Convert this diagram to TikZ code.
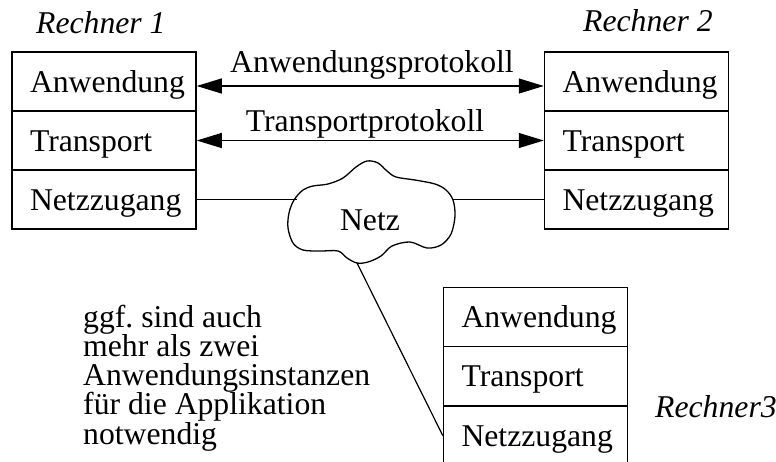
\documentclass[tikz,border=0pt]{standalone}
\usepackage{fontspec}
\setmainfont{Liberation Serif}
\usetikzlibrary{arrows.meta}
\newcommand\txtfont{\fontsize{31.7}{29.25}\selectfont}
\frenchspacing
\begin{document}
\begin{tikzpicture}[x=1pt,y=-1pt,
  layer/.style={draw, line width=1.5pt, minimum height=59pt, text width=148pt,
    inner xsep=18pt, inner ysep=0pt, align=left, text height=21pt, text depth=0pt,
    font=\txtfont},
  hostlabel/.style={anchor=base west, inner sep=0pt, font=\txtfont\itshape},
  protolabel/.style={anchor=base, inner sep=0pt, font=\txtfont},
  proto/.style={line width=1.2pt, {Triangle[length=25pt,width=15pt]}-{Triangle[length=25pt,width=15pt]}},
  link/.style={line width=1.2pt},
  cloudline/.style={line width=1.3pt, line join=round}]
\useasboundingbox (0,0) rectangle (776,461);

% host 1
\node[layer] (a1) at (104,81.5) {Anwendung};
\node[layer] (t1) at (104,140.5) {Transport};
\node[layer] (n1) at (104,199.5) {Netzzugang};
\node[hostlabel] (r1) at (36,33) {Rechner 1};

% host 2
\node[layer] (a2) at (636.5,81.5) {Anwendung};
\node[layer] (t2) at (636.5,140.5) {Transport};
\node[layer] (n2) at (636.5,199.5) {Netzzugang};
\node[hostlabel] (r2) at (583,31) {Rechner 2};

% host 3 (runs off the lower edge)
\node[layer] (a3) at (535.5,317) {Anwendung};
\node[layer] (t3) at (535.5,376) {Transport};
\node[layer] (n3) at (535.5,435.5) {Netzzugang};
\node[hostlabel] (r3) at (655,417) {Rechner3};

% protocol arrows
\draw[proto] ([yshift=-4.5pt]a1.east) -- ([yshift=-4.5pt]a2.west);
\node[protolabel] (pa) at (372,72) {Anwendungsprotokoll};
\draw[proto] (t1.east) -- (t2.west);
\node[protolabel] (pt) at (365,131) {Transportprotokoll};

% network cloud
\draw[cloudline] plot[smooth cycle, tension=0.55] coordinates {
  (367,161) (378,163) (387,171) (396,177) (415,180) (435,184) (446,190)
  (453,200) (455,216) (451,234) (441,245) (427,248) (410,242) (392,246)
  (381,256) (368,262) (357,263) (347,258) (338,251) (320,251) (303,250)
  (293,243) (288,228) (289,213) (294,200) (303,190) (313,186) (328,184)
  (343,178) (356,167)};
\node[font=\txtfont] (netz) at (370,220) {Netz};
\coordinate (cl) at (297,199.5);
\coordinate (cr) at (452,199.5);
\coordinate (cb) at (357,263);

% access links
\draw[link] (n1.east) -- (cl);
\draw[link] (cr) -- (n2.west);
\draw[link] (cb) -- (n3.west);

% remark (base anchor sits on the last line)
\node[anchor=base west, align=left, inner sep=0pt, font=\txtfont] (note) at (83,444)
  {ggf. sind auch\\mehr als zwei\\Anwendungsinstanzen\\für die Applikation\\notwendig};
\end{tikzpicture}
\end{document}
